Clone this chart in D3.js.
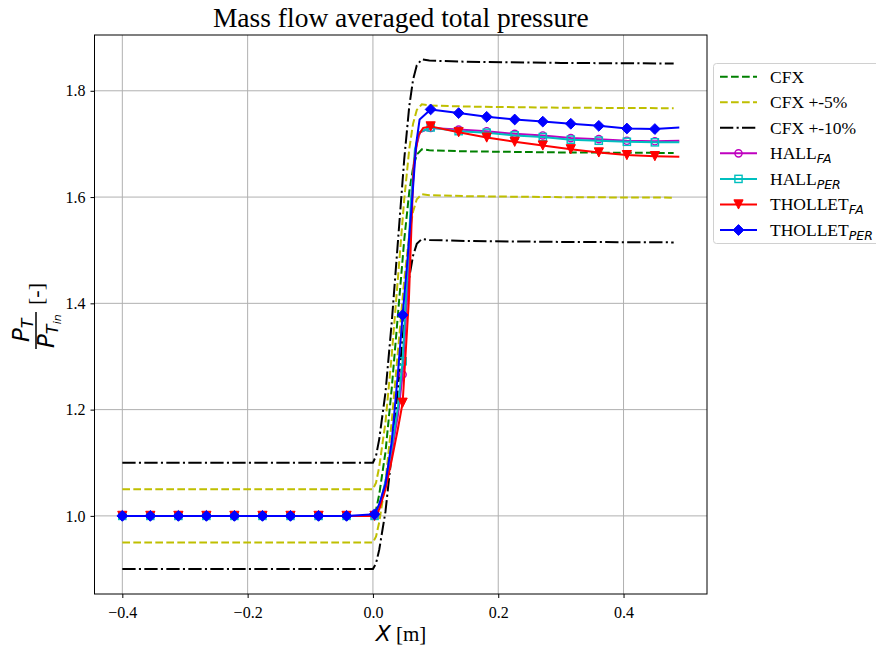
<!DOCTYPE html>
<html>
<head>
<meta charset="utf-8">
<script src="https://cdn.jsdelivr.net/npm/d3@7"></script>
<style>
  html, body { margin: 0; padding: 0; background: #fff; }
  svg { display: block; }
</style>
</head>
<body>
<svg id="chart" width="876" height="646"></svg>
<script>
// ---------------- DATA ----------------
const title = "Mass flow averaged total pressure";
const xTicks = [-0.4, -0.2, 0.0, 0.2, 0.4];
const yTicks = [1.0, 1.2, 1.4, 1.6, 1.8];

// CFX reference curve and its +-5% / +-10% bands
const cfxX    = [-0.4, 0.0, 0.005, 0.01, 0.02, 0.03, 0.04, 0.05, 0.058, 0.064, 0.07, 0.078, 0.09, 0.15, 0.3, 0.48];
const cfxY    = [1.0, 1.0, 1.012, 1.04, 1.12, 1.24, 1.38, 1.52, 1.61, 1.655, 1.68, 1.69, 1.688, 1.686, 1.684, 1.683];
const cfxP5Y  = [1.05, 1.05, 1.0626, 1.092, 1.176, 1.302, 1.449, 1.596, 1.6905, 1.7378, 1.764, 1.7745, 1.7724, 1.7703, 1.7682, 1.7672];
const cfxM5Y  = [0.95, 0.95, 0.9614, 0.988, 1.064, 1.178, 1.311, 1.444, 1.5295, 1.5723, 1.596, 1.6055, 1.6036, 1.6017, 1.5998, 1.5989];
const cfxP10Y = [1.1, 1.1, 1.1132, 1.144, 1.232, 1.364, 1.518, 1.672, 1.771, 1.8205, 1.848, 1.859, 1.8568, 1.8546, 1.8524, 1.8513];
const cfxM10Y = [0.9, 0.9, 0.9108, 0.936, 1.008, 1.116, 1.242, 1.368, 1.449, 1.4895, 1.512, 1.521, 1.5192, 1.5174, 1.5156, 1.5147];

// Marker stations (shared by the four solver series)
const markerX = [-0.4, -0.3553, -0.3105, -0.2658, -0.2211, -0.1763, -0.1316, -0.0868, -0.0421, 0.0026,
                 0.0474, 0.0921, 0.1368, 0.1816, 0.2263, 0.2711, 0.3158, 0.3605, 0.4053, 0.45];
const hallFAY    = [1, 1, 1, 1, 1, 1, 1, 1, 1, 1.0, 1.266, 1.730, 1.727, 1.724, 1.719, 1.716, 1.711, 1.709, 1.706, 1.705];
const hallPERY   = [1, 1, 1, 1, 1, 1, 1, 1, 1, 1.0, 1.291, 1.731, 1.724, 1.721, 1.716, 1.713, 1.708, 1.706, 1.704, 1.703];
const thollFAY   = [1, 1, 1, 1, 1, 1, 1, 1, 1, 1.0, 1.213, 1.733, 1.722, 1.712, 1.704, 1.697, 1.690, 1.684, 1.679, 1.677];
const thollPERY  = [1, 1, 1, 1, 1, 1, 1, 1, 1, 1.003, 1.378, 1.765, 1.758, 1.751, 1.746, 1.742, 1.738, 1.734, 1.729, 1.728];

// Extra line points inside the rise (between marker stations) and at the line end
const hallFARampX   = [0.01, 0.02, 0.03, 0.04, 0.055, 0.062, 0.068, 0.075, 0.489];
const hallFARampY   = [1.015, 1.06, 1.12, 1.19, 1.42, 1.60, 1.69, 1.722, 1.706];
const hallPERRampX  = [0.01, 0.02, 0.03, 0.04, 0.054, 0.061, 0.067, 0.074, 0.489];
const hallPERRampY  = [1.017, 1.065, 1.13, 1.205, 1.44, 1.60, 1.69, 1.722, 1.703];
const thollFARampX  = [0.01, 0.02, 0.03, 0.04, 0.0574, 0.0649, 0.072, 0.08, 0.489];
const thollFARampY  = [1.012, 1.05, 1.105, 1.165, 1.407, 1.658, 1.715, 1.73, 1.676];
const thollPERRampX = [0.01, 0.02, 0.03, 0.04, 0.055, 0.0638, 0.069, 0.0745, 0.489];
const thollPERRampY = [1.022, 1.06, 1.14, 1.27, 1.48, 1.614, 1.70, 1.746, 1.731];

// ---------------- LAYOUT ----------------
const W = 876, H = 646;
const plot = {left: 94.5, right: 707, top: 35, bottom: 594};
const serif = "'Liberation Serif', 'Times New Roman', serif";
const mathF = "'DejaVu Sans', sans-serif";

const svg = d3.select("#chart");
const x = d3.scaleLinear().domain([-0.4444, 0.5332]).range([plot.left, plot.right]);
const y = d3.scaleLinear().domain([0.853, 1.905]).range([plot.bottom, plot.top]);

// grid
const grid = svg.append("g");
xTicks.forEach(t => grid.append("line").attr("x1", x(t)).attr("x2", x(t)).attr("y1", plot.top).attr("y2", plot.bottom)
  .attr("stroke", "#b0b0b0").attr("stroke-width", 1));
yTicks.forEach(t => grid.append("line").attr("y1", y(t)).attr("y2", y(t)).attr("x1", plot.left).attr("x2", plot.right)
  .attr("stroke", "#b0b0b0").attr("stroke-width", 1));

// clip
svg.append("clipPath").attr("id", "clip").append("rect")
  .attr("x", plot.left).attr("y", plot.top).attr("width", plot.right - plot.left).attr("height", plot.bottom - plot.top);
const g = svg.append("g").attr("clip-path", "url(#clip)");

const line = d3.line().x(d => x(d[0])).y(d => y(d[1]));
const zip = (xs, ys) => xs.map((v, i) => [v, ys[i]]);

const dashed = "7.7,3.3";
const dashdot = "13.3,3.3,2.1,3.3";

const cfxSeries = [
  {ys: cfxY, color: "#008000", dash: dashed},
  {ys: cfxP5Y, color: "#bfbf00", dash: dashed},
  {ys: cfxM5Y, color: "#bfbf00", dash: dashed},
  {ys: cfxP10Y, color: "#000000", dash: dashdot},
  {ys: cfxM10Y, color: "#000000", dash: dashdot},
];
cfxSeries.forEach(s => {
  g.append("path").attr("d", line(zip(cfxX, s.ys))).attr("fill", "none")
    .attr("stroke", s.color).attr("stroke-width", 2).attr("stroke-dasharray", s.dash);
});

const solverSeries = [
  {ys: hallFAY, rx: hallFARampX, ry: hallFARampY, color: "#bf00bf", marker: "circle"},
  {ys: hallPERY, rx: hallPERRampX, ry: hallPERRampY, color: "#00bfbf", marker: "square"},
  {ys: thollFAY, rx: thollFARampX, ry: thollFARampY, color: "#ff0000", marker: "tri"},
  {ys: thollPERY, rx: thollPERRampX, ry: thollPERRampY, color: "#0000ff", marker: "diamond"},
];

function drawMarker(sel, type, cx, cy, color) {
  if (type === "circle") {
    sel.append("circle").attr("cx", cx).attr("cy", cy).attr("r", 3.6)
      .attr("fill", "none").attr("stroke", color).attr("stroke-width", 1.4);
  } else if (type === "square") {
    sel.append("rect").attr("x", cx - 3.6).attr("y", cy - 3.6).attr("width", 7.2).attr("height", 7.2)
      .attr("fill", "none").attr("stroke", color).attr("stroke-width", 1.4);
  } else if (type === "tri") {
    const s = 4.6;
    sel.append("path").attr("d", `M${cx - s},${cy - s}L${cx + s},${cy - s}L${cx},${cy + s}Z`)
      .attr("fill", color).attr("stroke", color).attr("stroke-width", 1);
  } else if (type === "diamond") {
    const s = 5.4;
    sel.append("path").attr("d", `M${cx},${cy - s}L${cx + s},${cy}L${cx},${cy + s}L${cx - s},${cy}Z`)
      .attr("fill", color).attr("stroke", color).attr("stroke-width", 1);
  }
}

solverSeries.forEach(s => {
  const pts = zip(markerX, s.ys).concat(zip(s.rx, s.ry)).sort((a, b) => a[0] - b[0]);
  g.append("path").attr("d", line(pts)).attr("fill", "none")
    .attr("stroke", s.color).attr("stroke-width", 2).attr("stroke-linejoin", "round");
  markerX.forEach((mx, i) => drawMarker(g, s.marker, x(mx), y(s.ys[i]), s.color));
});

// frame
svg.append("rect").attr("x", plot.left).attr("y", plot.top)
  .attr("width", plot.right - plot.left).attr("height", plot.bottom - plot.top)
  .attr("fill", "none").attr("stroke", "#000").attr("stroke-width", 1);

// axes (ticks + labels)
const xAxis = d3.axisBottom(x).tickValues(xTicks).tickSize(4).tickPadding(5)
  .tickFormat(d => d3.format(".1f")(d).replace("-", "\u2212"));
const xa = svg.append("g").attr("transform", `translate(0,${plot.bottom})`).call(xAxis);
const yAxis = d3.axisLeft(y).tickValues(yTicks).tickSize(4).tickPadding(5).tickFormat(d3.format(".1f"));
const ya = svg.append("g").attr("transform", `translate(${plot.left},0)`).call(yAxis);
[xa, ya].forEach(a => {
  a.select(".domain").remove();
  a.selectAll("text").style("font-family", serif).style("font-size", "16px").attr("fill", "#000");
  a.selectAll("line").attr("stroke", "#000");
});
xa.selectAll("text").attr("dy", "0.95em");

// title
svg.append("text").attr("x", (plot.left + plot.right) / 2).attr("y", 27)
  .attr("text-anchor", "middle").style("font-family", serif).style("font-size", "27.5px").text(title);

// x label
const xl = svg.append("text").attr("x", 401).attr("y", 641)
  .attr("text-anchor", "middle").style("font-family", serif).style("font-size", "21px");
xl.append("tspan").style("font-family", mathF).style("font-style", "italic").style("font-size", "22px").text("X");
xl.append("tspan").text(" [m]");

// y label (fraction)
const yl = svg.append("g").attr("transform", "translate(36,330) rotate(-90)");
yl.append("line").attr("x1", -19).attr("x2", 18).attr("y1", 0).attr("y2", 0).attr("stroke", "#000").attr("stroke-width", 1.5);
const num = yl.append("text").attr("x", -12).attr("y", -7)
  .style("font-family", mathF).style("font-style", "italic").style("font-size", "23px");
num.append("tspan").text("P");
num.append("tspan").attr("dy", 4).style("font-size", "16px").text("T");
const den = yl.append("text").attr("x", -18).attr("y", 18)
  .style("font-family", mathF).style("font-style", "italic").style("font-size", "23px");
den.append("tspan").text("P");
den.append("tspan").attr("dy", 4).style("font-size", "16px").text("T");
den.append("tspan").attr("dy", 3).style("font-size", "11px").text("in");
yl.append("text").attr("x", 25).attr("y", 7).style("font-family", serif).style("font-size", "22px").text("[-]");

// legend
const legendItems = [
  {label: "CFX", sub: null, color: "#008000", dash: dashed, marker: null},
  {label: "CFX +-5%", sub: null, color: "#bfbf00", dash: dashed, marker: null},
  {label: "CFX +-10%", sub: null, color: "#000000", dash: dashdot, marker: null},
  {label: "HALL", sub: "FA", color: "#bf00bf", dash: null, marker: "circle"},
  {label: "HALL", sub: "PER", color: "#00bfbf", dash: null, marker: "square"},
  {label: "THOLLET", sub: "FA", color: "#ff0000", dash: null, marker: "tri"},
  {label: "THOLLET", sub: "PER", color: "#0000ff", dash: null, marker: "diamond"},
];
const lg = svg.append("g");
lg.append("rect").attr("x", 713.5).attr("y", 63.5).attr("width", 175).attr("height", 180).attr("rx", 3)
  .attr("fill", "#fff").attr("fill-opacity", 0.8).attr("stroke", "#d0d0d0").attr("stroke-width", 1);
legendItems.forEach((it, i) => {
  const cy = 76.7 + i * 25.55;
  const l = lg.append("line").attr("x1", 720).attr("x2", 757).attr("y1", cy).attr("y2", cy)
    .attr("stroke", it.color).attr("stroke-width", 2);
  if (it.dash) l.attr("stroke-dasharray", it.dash);
  if (it.marker) drawMarker(lg, it.marker, 738.5, cy, it.color);
  const t = lg.append("text").attr("x", 770).attr("y", cy + 6)
    .style("font-family", serif).style("font-size", "17.5px").text(it.label);
  if (it.sub) t.append("tspan").attr("dy", 4).style("font-family", mathF).style("font-style", "italic")
    .style("font-size", "12.5px").text(it.sub);
});
</script>
</body>
</html>
